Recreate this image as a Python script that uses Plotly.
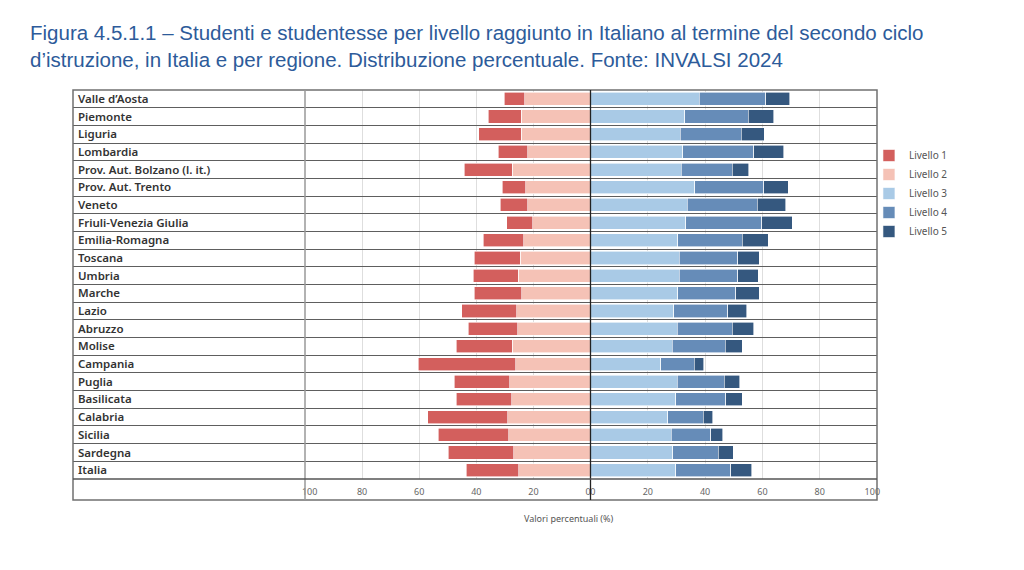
import plotly.graph_objects as go

regions = ["Valle d’Aosta", "Piemonte", "Liguria", "Lombardia", "Prov. Aut. Bolzano (l. it.)",
           "Prov. Aut. Trento", "Veneto", "Friuli-Venezia Giulia", "Emilia-Romagna", "Toscana",
           "Umbria", "Marche", "Lazio", "Abruzzo", "Molise", "Campania", "Puglia", "Basilicata",
           "Calabria", "Sicilia", "Sardegna", "Italia"]

livello1 = [7.2, 11.7, 15.0, 10.5, 16.9, 8.2, 9.7, 9.0, 14.1, 16.2, 15.8, 16.7, 19.2, 17.5, 19.6, 34.1, 19.6, 19.5, 28.1, 24.8, 23.0, 18.5]
livello2 = [23.0, 24.2, 24.2, 21.9, 27.4, 22.7, 21.9, 20.3, 23.4, 24.6, 25.3, 24.1, 25.9, 25.4, 27.4, 26.2, 28.2, 27.5, 28.9, 28.6, 26.9, 25.1]
livello3 = [38.0, 32.9, 31.4, 32.2, 31.7, 36.4, 33.7, 33.2, 30.5, 31.0, 31.0, 30.5, 29.0, 30.2, 28.6, 24.6, 30.2, 29.8, 27.0, 28.1, 28.7, 29.8]
livello4 = [23.2, 22.1, 21.2, 24.8, 17.8, 24.1, 24.5, 26.5, 22.4, 20.4, 20.4, 20.2, 18.9, 19.3, 18.5, 11.6, 16.5, 17.4, 12.3, 13.9, 15.9, 19.2]
livello5 = [8.3, 9.0, 8.0, 10.5, 5.7, 8.5, 10.0, 10.7, 9.2, 7.5, 7.2, 8.2, 6.6, 7.4, 5.8, 3.4, 5.4, 5.7, 3.4, 4.2, 5.2, 7.2]

tick_vals = [0, 20, 40, 60, 80, 100]
NB = "\u00a0"
left_ticktext = ["0" + NB * 2, "20", "40", "60", "80", NB * 4 + "100"]
right_ticktext = [NB * 2 + "0", "20", "40", "60", "80", "100" + NB * 4]

colors = {"Livello 1": "#d35f5d", "Livello 2": "#f5c2b6", "Livello 3": "#a9cae6",
          "Livello 4": "#668cb8", "Livello 5": "#35587f"}

W, H = 1024, 570
L, R, T, B = 73, 877, 90, 479
panel_end = 305
zero_px = 590.5
def px(xp):
    return (xp - L) / (R - L)
def py(yp):
    return (B - yp) / (B - T)

d_panel = px(panel_end)
d_mid = px(zero_px)
y_bottom = py(500)

fig = go.Figure()

# label panel subplot (keeps grid lines across the label column)
fig.add_trace(go.Scatter(x=[0] * len(regions), y=regions, mode="none", xaxis="x3", yaxis="y",
                         showlegend=False, hoverinfo="skip"))

bar_common = dict(orientation="h", marker_line_color="white", marker_line_width=0.6)
fig.add_trace(go.Bar(name="Livello 2", y=regions, x=livello2, xaxis="x", yaxis="y",
                     marker_color=colors["Livello 2"], legendrank=2, **bar_common))
fig.add_trace(go.Bar(name="Livello 1", y=regions, x=livello1, xaxis="x", yaxis="y",
                     marker_color=colors["Livello 1"], legendrank=1, **bar_common))
fig.add_trace(go.Bar(name="Livello 3", y=regions, x=livello3, xaxis="x2", yaxis="y",
                     marker_color=colors["Livello 3"], legendrank=3, **bar_common))
fig.add_trace(go.Bar(name="Livello 4", y=regions, x=livello4, xaxis="x2", yaxis="y",
                     marker_color=colors["Livello 4"], legendrank=4, **bar_common))
fig.add_trace(go.Bar(name="Livello 5", y=regions, x=livello5, xaxis="x2", yaxis="y",
                     marker_color=colors["Livello 5"], legendrank=5, **bar_common))

tick_font = dict(family="Noto Sans, sans-serif", size=9, color="#666666")
axis_common = dict(tickvals=tick_vals, showgrid=True, gridcolor="#dedede", gridwidth=1,
                   zeroline=False, showline=False, ticks="", tickfont=tick_font, fixedrange=True,
                   ticklabelstandoff=6)

title_text = ("Figura 4.5.1.1 – Studenti e studentesse per livello raggiunto in Italiano al termine del secondo ciclo"
              "<br>d’istruzione, in Italia e per regione. Distribuzione percentuale. Fonte: INVALSI 2024")

frame_col = "#707070"
shapes = [
    dict(type="rect", xref="paper", yref="paper", x0=0, x1=1, y0=y_bottom, y1=1,
         line=dict(color=frame_col, width=1.5), layer="above"),
    dict(type="line", xref="paper", yref="paper", x0=d_panel, x1=d_panel, y0=y_bottom, y1=1,
         line=dict(color="#999999", width=1.5), layer="above"),
    dict(type="line", xref="paper", yref="paper", x0=d_mid, x1=d_mid, y0=y_bottom, y1=1,
         line=dict(color="#222222", width=1.3), layer="above"),
    dict(type="line", xref="paper", yref="paper", x0=0, x1=1, y0=0, y1=0,
         line=dict(color="#555555", width=1.5), layer="above"),
]

fig.update_layout(
    width=W, height=H, autosize=False,
    margin=dict(l=L, r=W - R, t=T, b=H - B, pad=0),
    paper_bgcolor="white", plot_bgcolor="white",
    barmode="stack", bargap=0.26,
    title=dict(text=title_text, x=30 / W, xanchor="left", xref="container",
               y=1 - 40 / H, yanchor="top", yref="container",
               font=dict(family="Liberation Sans, Arial, sans-serif", size=20.5, color="#2d5b9a")),
    xaxis=dict(domain=[d_panel, d_mid], range=[100, 0], ticktext=left_ticktext, anchor="y", **axis_common),
    xaxis2=dict(domain=[d_mid, 1], range=[0, 100], ticktext=right_ticktext, anchor="y", **axis_common),
    xaxis3=dict(domain=[0, d_panel], range=[0, 1], showgrid=False, showticklabels=False,
                zeroline=False, showline=False, anchor="y", fixedrange=True),
    yaxis=dict(anchor="x3", range=[len(regions) - 0.5, -0.5], autorange=False,
               tickson="boundaries", showgrid=True,
               gridcolor="#5e5e5e", gridwidth=1.4, ticks="", ticklabelposition="inside",
               ticklabelstandoff=2,
               tickfont=dict(family="Noto Sans, sans-serif", size=11.5, color="#333333", weight=600),
               zeroline=False, showline=False, fixedrange=True),
    legend=dict(x=0.99, xanchor="left", y=py(141), yanchor="top", traceorder="normal",
                font=dict(family="Noto Sans, sans-serif", size=10, color="#555555"),
                bgcolor="rgba(0,0,0,0)", itemwidth=30, tracegroupgap=0),
    shapes=shapes,
    annotations=[dict(text="Valori percentuali (%)", xref="paper", yref="paper",
                      x=px(569), y=py(518), xanchor="center", yanchor="middle", showarrow=False,
                      font=dict(family="Noto Sans, sans-serif", size=9, color="#555555"))],
    showlegend=True,
)

fig.write_html("out.html", config={"displayModeBar": False},
               post_script="document.body.style.margin='0';document.body.style.overflow='hidden';")
